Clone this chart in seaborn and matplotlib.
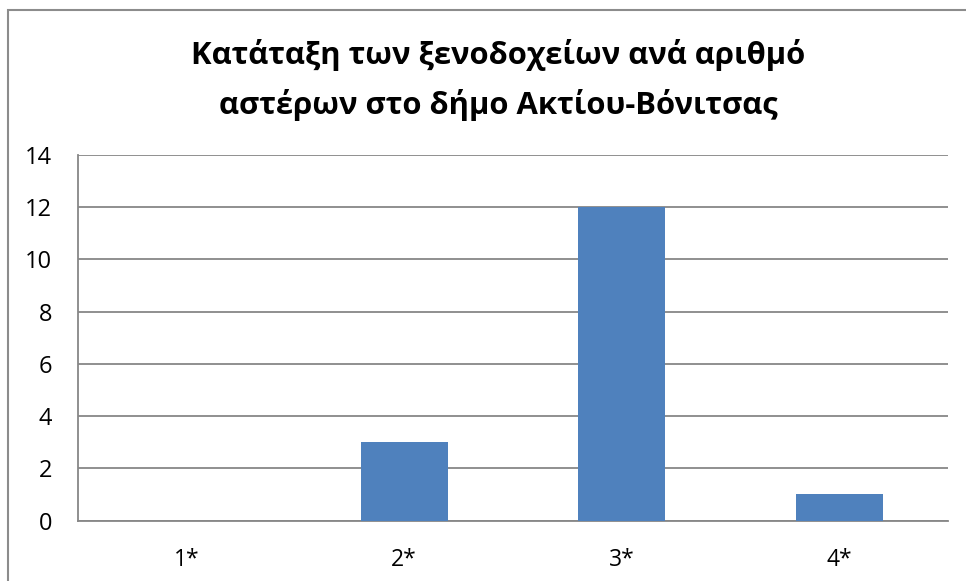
import matplotlib
matplotlib.use("Agg")
import matplotlib.pyplot as plt
import seaborn as sns
import pandas as pd
from matplotlib.ticker import FixedLocator, NullFormatter
from matplotlib.patches import Rectangle

categories = ["1*", "2*", "3*", "4*"]
values = [0, 3, 12, 1]
y_ticks = [0, 2, 4, 6, 8, 10, 12, 14]
title = "Κατάταξη των ξενοδοχείων ανά αριθμό\nαστέρων στο δήμο Ακτίου-Βόνιτσας"

sns.set_style("white")
plt.rcParams['font.family'] = ['Open Sans', 'DejaVu Sans']
plt.rcParams['text.color'] = 'black'

df = pd.DataFrame({"cat": categories, "val": values})

fig = plt.figure(figsize=(9.66, 5.81), dpi=100)
ax = fig.add_axes([78/966, 1-520.5/581, (948-78)/966, (520.5-155)/581])

sns.barplot(data=df, x="cat", y="val", color="#4F81BD", width=0.4,
            saturation=1, ax=ax, zorder=3, linewidth=0)

gray = "#878787"
ax.set_ylim(0, 14)
ax.set_xlim(-0.5, 3.5)
ax.set_yticks(y_ticks)
ax.set_yticklabels([str(v) for v in y_ticks])
ax.yaxis.grid(True, color=gray, linewidth=1.3, zorder=0)
ax.set_axisbelow(True)

# x ticks: marks at boundaries, labels at centres
ax.xaxis.set_major_locator(FixedLocator([-0.5, 0.5, 1.5, 2.5, 3.5]))
ax.xaxis.set_major_formatter(NullFormatter())
ax.xaxis.set_minor_locator(FixedLocator([0, 1, 2, 3]))
ax.set_xticklabels(categories, minor=True)
ax.tick_params(axis="x", which="major", length=6, width=1.3, color=gray, direction="out")
ax.tick_params(axis="x", which="minor", length=0, pad=19.5, labelsize=16.5, labelcolor="black")
ax.tick_params(axis="y", length=6.5, width=1.3, color=gray, direction="out", pad=12,
               labelsize=17, labelcolor="black")

for s in ["top", "right"]:
    ax.spines[s].set_visible(False)
for s in ["left", "bottom"]:
    ax.spines[s].set_color(gray)
    ax.spines[s].set_linewidth(1.3)
ax.set_xlabel("")
ax.set_ylabel("")

fig.text(498/966, 1-80/581, title, ha="center", va="center", fontsize=22.3,
         fontweight="bold", linespacing=1.75, color="black")

# chart outer border
fig.patches.append(Rectangle((8/966, -0.1), 1.2, 1-10/581+0.1, transform=fig.transFigure,
                             fill=False, edgecolor="#8c8c8c", linewidth=1.5))

fig.savefig("out.png", dpi=100)
